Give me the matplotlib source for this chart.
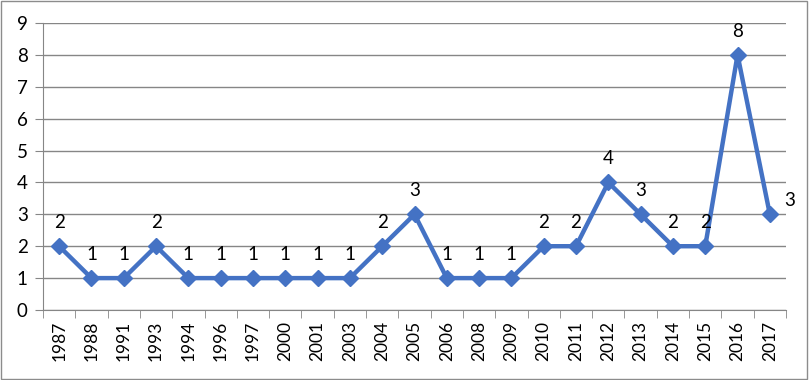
import numpy as np
import matplotlib.pyplot as plt

plt.rcParams['font.family'] = ['Lato', 'DejaVu Sans']

years = ['1987', '1988', '1991', '1993', '1994', '1996', '1997', '2000', '2001', '2003',
         '2004', '2005', '2006', '2008', '2009', '2010', '2011', '2012', '2013', '2014',
         '2015', '2016', '2017']
counts = [2, 1, 1, 2, 1, 1, 1, 1, 1, 1, 2, 3, 1, 1, 1, 2, 2, 4, 3, 2, 2, 8, 3]

fig = plt.figure(figsize=(8.09, 3.8), dpi=100)
ax = fig.add_axes([43/809, 70/380, 743/809, 287/380])

x = np.arange(len(years))
ax.plot(x, counts, '-', color='#4472C4', lw=3.2, marker='D', ms=8, zorder=3)

for i, v in enumerate(counts):
    if i == len(counts) - 1:
        ax.annotate(str(v), (i, v), xytext=(10, 10), textcoords='offset points',
                    ha='left', va='center', fontsize=13.5, annotation_clip=False)
    else:
        ax.annotate(str(v), (i, v), xytext=(0, 11), textcoords='offset points',
                    ha='center', va='bottom', fontsize=13.5)

ax.set_xlim(-0.5, len(years) - 0.5)
ax.set_ylim(0, 9)
ax.set_yticks(range(10))
ax.set_xticks(x)
ax.set_xticklabels(years, rotation=90, fontsize=12.5)
ax.set_xticks(np.arange(-0.5, len(years), 1), minor=True)
ax.tick_params(axis='x', which='major', length=0, pad=8)
ax.tick_params(axis='x', which='minor', length=6, color='#868686')
ax.tick_params(axis='y', length=6, color='#868686', labelsize=13.5, pad=5)
ax.grid(axis='y', color='#868686', lw=1)
ax.set_axisbelow(True)
for s in ['top', 'right']:
    ax.spines[s].set_visible(False)
for s in ['left', 'bottom']:
    ax.spines[s].set_color('#868686')

fig.patches.append(plt.Rectangle((0.001, 0.002), 0.997, 0.995, transform=fig.transFigure,
                                 fill=False, edgecolor='#8c8c8c', lw=1))

fig.savefig('out.png', dpi=100)
